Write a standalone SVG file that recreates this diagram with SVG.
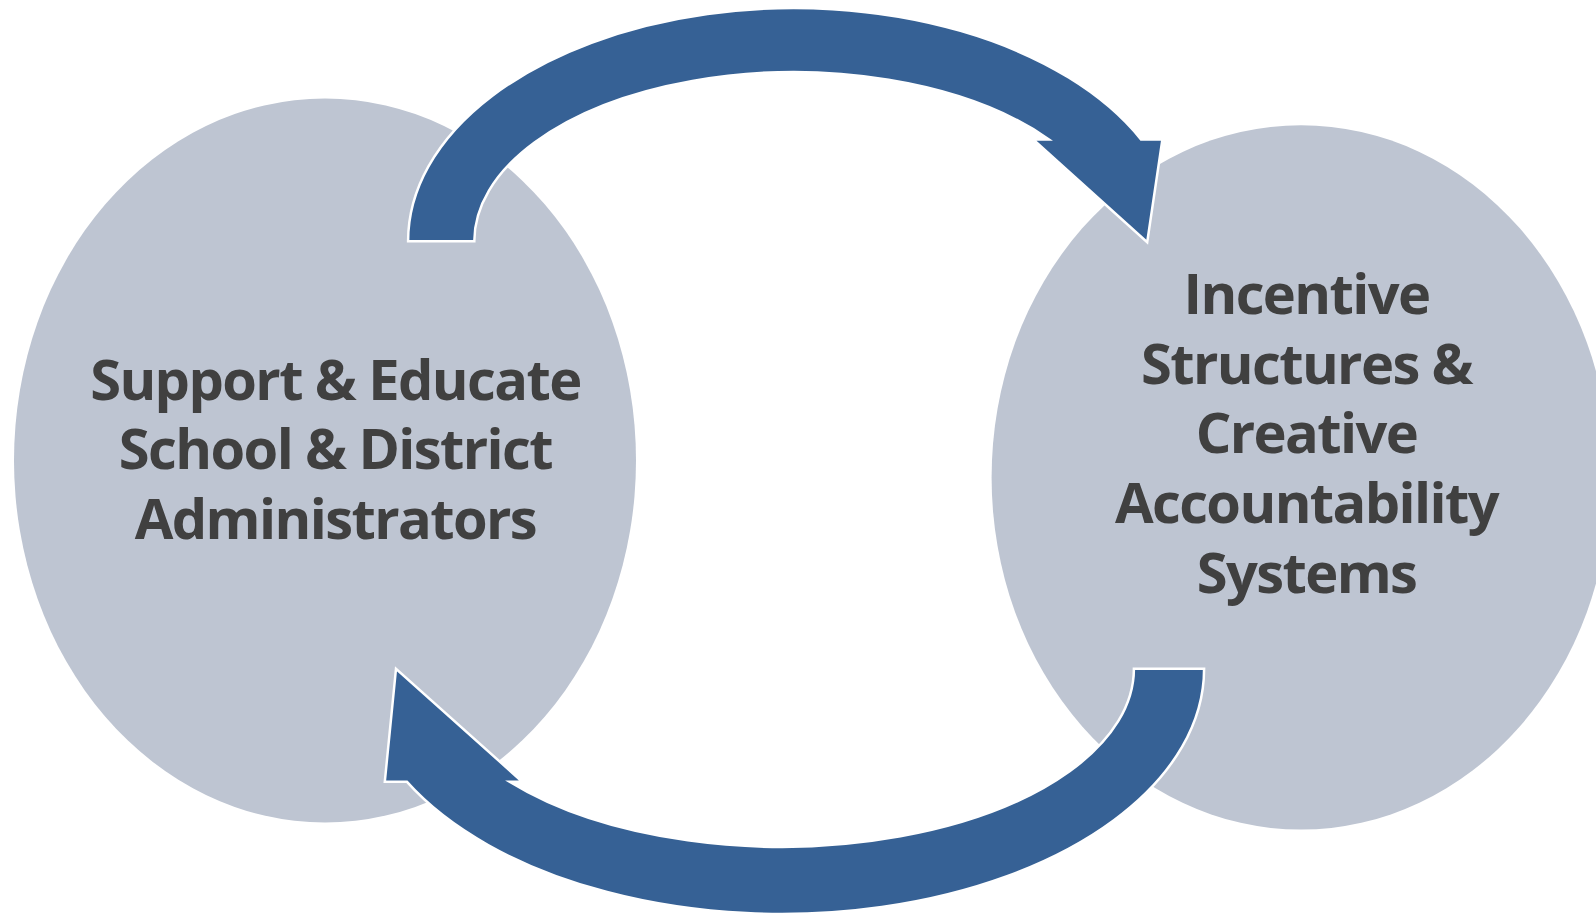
<svg xmlns="http://www.w3.org/2000/svg" width="1596" height="916" viewBox="0 0 1596 916">
<style>
.node{fill:#BEC5D2;}
.arrow{fill:#366195;stroke:#FFFFFF;stroke-width:2.5;stroke-linejoin:miter;}
.lbl{font-family:"Open Sans","Liberation Sans",sans-serif;font-weight:700;font-size:56px;fill:#404040;text-anchor:middle;letter-spacing:-1.6px;}
</style>
<rect x="0" y="0" width="1596" height="916" fill="#FFFFFF"/>
<g id="node-support">
<ellipse class="node" cx="325" cy="460.5" rx="311" ry="362"/>
<text class="lbl"><tspan x="335.4" y="400">Support &amp; Educate</tspan><tspan x="335.4" y="469">School &amp; District</tspan><tspan x="335.4" y="538.5">Administrators</tspan></text>
</g>
<g id="node-incentive">
<ellipse class="node" cx="1301" cy="477.4" rx="309.4" ry="352.2"/>
<text class="lbl"><tspan x="1306.5" y="313.5">Incentive</tspan><tspan x="1306.5" y="383.5">Structures &amp;</tspan><tspan x="1306.5" y="453">Creative</tspan><tspan x="1306.5" y="523">Accountability</tspan><tspan x="1306.5" y="593">Systems</tspan></text>
</g>
<g id="connectors">
<path id="arrow-top" class="arrow" d="M408.1,241.2 A385.8,233.1 0 0 1 1141,139.4 L1162.4,139.4 L1147.2,242.3 L1033.2,139.4 L1049,139.4 A319.6,169 0 0 0 474.3,241.2 Z"/>
<path id="arrow-bottom" class="arrow" d="M1204.1,668.7 A422.4,245.3 0 0 1 406.8,781.7 L384.8,781.7 L396,668.7 L522.2,781.7 L509.5,781.7 A352.2,178.1 0 0 0 1133.9,668.7 Z"/>
</g>
</svg>
